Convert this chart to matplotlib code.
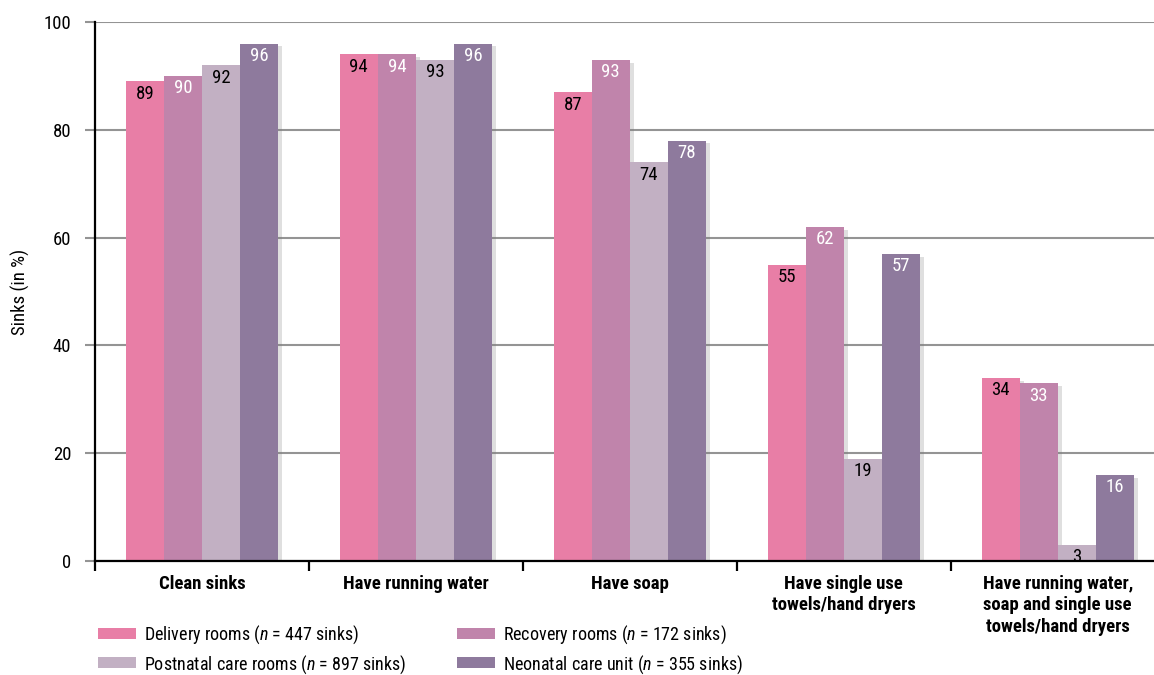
import matplotlib
matplotlib.use("Agg")
import matplotlib.pyplot as plt
import matplotlib.patheffects as pe
from matplotlib import font_manager
from matplotlib.patches import Patch
import numpy as np

# pick the narrowest sans family that is installed
base = 'DejaVu Sans'
for fam in ['Liberation Sans Narrow', 'Roboto Condensed', 'Open Sans Condensed', 'Roboto']:
    try:
        font_manager.findfont(fam, fallback_to_default=False)
        base = fam
        break
    except ValueError:
        pass
plt.rcParams['font.family'] = [base, 'DejaVu Sans']
plt.rcParams['mathtext.fontset'] = 'custom'
plt.rcParams['mathtext.it'] = base + ':italic'
plt.rcParams['mathtext.rm'] = base
FS = 13.5

categories = ["Clean sinks", "Have running water", "Have soap",
              "Have single use\ntowels/hand dryers",
              "Have running water,\nsoap and single use\ntowels/hand dryers"]
series = ["Delivery rooms ($n$ = 447 sinks)", "Recovery rooms ($n$ = 172 sinks)",
          "Postnatal care rooms ($n$ = 897 sinks)", "Neonatal care unit ($n$ = 355 sinks)"]
delivery = [89, 94, 87, 55, 34]
recovery = [90, 94, 93, 62, 33]
postnatal = [92, 93, 74, 19, 3]
neonatal = [96, 96, 78, 57, 16]
values = [delivery, recovery, postnatal, neonatal]
colors = ["#E87EA6", "#C084AB", "#C2B0C3", "#8E7A9D"]
label_colors = ["black", "white", "black", "white"]

fig = plt.figure(figsize=(11.54, 6.75), dpi=100)
ax = fig.add_axes([95 / 1154, 114 / 675, 1 - 95 / 1154, 539 / 675])

x = np.arange(len(categories)) + 0.5
w = 0.178
shadow = [pe.withSimplePatchShadow(offset=(3, -2), shadow_rgbFace='0.5', alpha=0.25)]
for i, (vals, col, lc) in enumerate(zip(values, colors, label_colors)):
    pos = x + (i - 1.5) * w
    bars = ax.bar(pos, vals, width=w, color=col, zorder=3, path_effects=shadow)
    for b, v in zip(bars, vals):
        ax.annotate(str(v), (b.get_x() + b.get_width() / 2, v), xytext=(0, -2.5),
                    textcoords='offset points', ha='center', va='top',
                    fontsize=FS, color=lc, zorder=4)

ax.set_xlim(0, 4.95)
ax.set_ylim(0, 100)
ax.set_yticks(range(0, 101, 20))
ax.yaxis.grid(True, color='#949494', linewidth=1.5, zorder=0)
ax.tick_params(axis='y', direction='out', length=7, width=1.5, color='#949494',
               labelsize=FS, pad=10)
ax.yaxis.get_major_ticks()[0].tick1line.set_color('black')

ax.set_xticks(np.arange(0, 5))
ax.set_xticklabels([])
ax.set_xticks(x, minor=True)
ax.set_xticklabels(categories, minor=True, fontweight='bold', fontsize=FS,
                   linespacing=1.25, va='top')
ax.tick_params(axis='x', which='major', direction='out', length=7, width=1.6, color='black')
ax.tick_params(axis='x', which='minor', length=0, pad=10)

for s in ['top', 'right']:
    ax.spines[s].set_visible(False)
for s in ['left', 'bottom']:
    ax.spines[s].set_linewidth(1.6)
    ax.spines[s].set_zorder(5)

ax.set_ylabel("Sinks (in %)", fontsize=FS, labelpad=10)

# legend fills column-wise, so order entries to read row by row
order = [0, 2, 1, 3]
handles = [Patch(facecolor=colors[k], edgecolor='none') for k in order]
fig.legend(handles, [series[k] for k in order], ncol=2, loc='upper left',
           bbox_to_anchor=(82 / 1154, 1 - 607 / 675), frameon=False, fontsize=13,
           handlelength=2.1, handleheight=0.55, handletextpad=0.45,
           columnspacing=2.8, labelspacing=0.4)

fig.savefig("out.png", dpi=100)
